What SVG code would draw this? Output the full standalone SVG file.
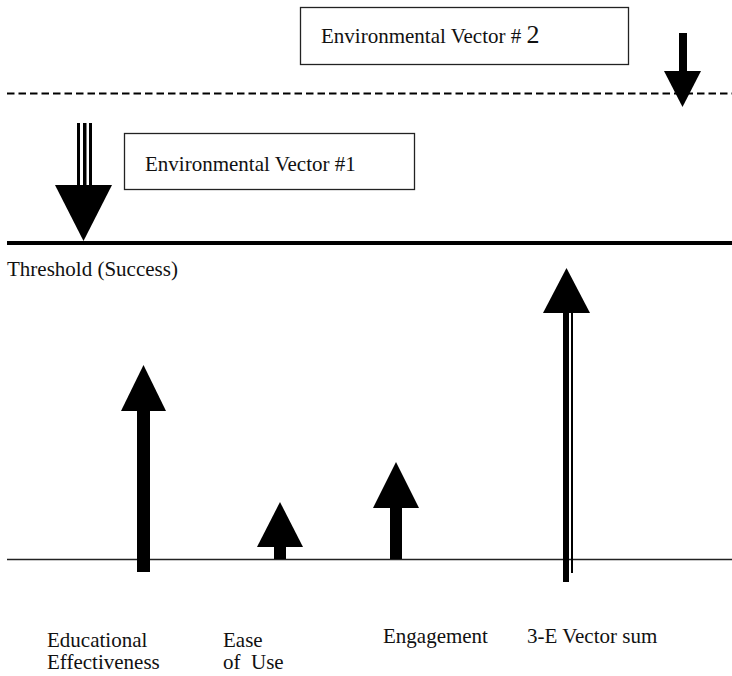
<svg xmlns="http://www.w3.org/2000/svg" width="732" height="676" viewBox="0 0 732 676">
<style>
text{font-family:"Liberation Serif","Times New Roman",serif;font-size:21px;fill:#111}
.box{fill:#fff;stroke:#222;stroke-width:1.3}
.ar{fill:#000}
</style>
<rect width="732" height="676" fill="#fff"/>
<g id="connectors">
<line x1="7" y1="93.5" x2="732" y2="93.5" stroke="#000" stroke-width="2.2" stroke-dasharray="7.5,4"/>
<line x1="7" y1="243" x2="732" y2="243" stroke="#000" stroke-width="4.2"/>
<line x1="7" y1="559.5" x2="732" y2="559.5" stroke="#222" stroke-width="1.6"/>
</g>
<g id="env2">
<rect class="box" x="300.5" y="7.5" width="328" height="57"/>
<text x="321" y="43">Environmental Vector # <tspan font-size="26">2</tspan></text>
</g>
<g id="env2-arrow">
<rect class="ar" x="679" y="33" width="8" height="39"/>
<polygon class="ar" points="664,71 701,71 682.5,107"/>
</g>
<g id="env1">
<rect class="box" x="124.5" y="133.5" width="290" height="56"/>
<text x="145" y="171">Environmental Vector #1</text>
</g>
<g id="env1-arrow">
<rect class="ar" x="77" y="123" width="3" height="63"/>
<rect class="ar" x="83" y="123" width="3.5" height="63"/>
<rect class="ar" x="89" y="123" width="3" height="63"/>
<polygon class="ar" points="55,185 112,185 83.5,241"/>
</g>
<g id="threshold">
<text x="7" y="276">Threshold (Success)</text>
</g>
<g id="educational">
<rect class="ar" x="137" y="410" width="13" height="162"/>
<polygon class="ar" points="121,411 166,411 143.5,365"/>
<text x="47" y="647">Educational</text>
<text x="47" y="669">Effectiveness</text>
</g>
<g id="ease">
<rect class="ar" x="274" y="546" width="12" height="13"/>
<polygon class="ar" points="257,547 303,547 280,502"/>
<text x="223" y="647">Ease</text>
<text x="223" y="669" xml:space="preserve">of  Use</text>
</g>
<g id="engagement">
<rect class="ar" x="390" y="507" width="12" height="52"/>
<polygon class="ar" points="373,508 419,508 396,462"/>
<text x="383" y="643">Engagement</text>
</g>
<g id="vector-sum">
<rect class="ar" x="563" y="312" width="6" height="270"/>
<rect class="ar" x="571" y="312" width="2" height="261"/>
<polygon class="ar" points="543,313 590,313 566.5,268"/>
<text x="527" y="643">3-E Vector sum</text>
</g>
</svg>
